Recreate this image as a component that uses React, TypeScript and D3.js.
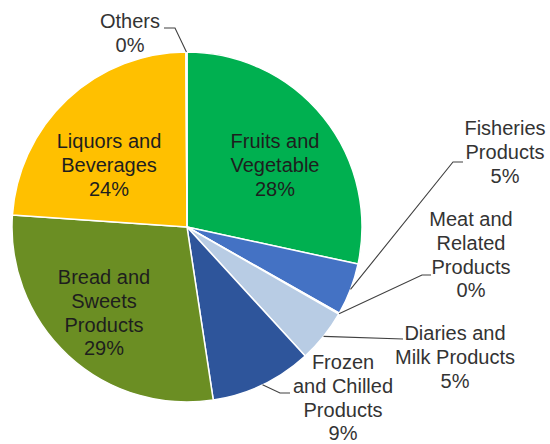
import React from "react";
import * as d3 from "d3";

const categories = [
  "Fruits and Vegetable",
  "Fisheries Products",
  "Meat and Related Products",
  "Diaries and Milk Products",
  "Frozen and Chilled Products",
  "Bread and Sweets Products",
  "Liquors and Beverages",
  "Others",
];
const values = [28.4, 4.8, 0.1, 4.9, 9.4, 28.5, 23.8, 0.1];
const colors = ["#00B050", "#4472C4", "#6E93D3", "#B8CCE4", "#2E559B", "#6B8E23", "#FFC000", "#A5A5A5"];
const labelLines = [
  ["Fruits and", "Vegetable"],
  ["Fisheries", "Products"],
  ["Meat and", "Related", "Products"],
  ["Diaries and", "Milk Products"],
  ["Frozen", "and Chilled", "Products"],
  ["Bread and", "Sweets", "Products"],
  ["Liquors and", "Beverages"],
  ["Others"],
];

// label layout: x center, first baseline, inside?, elbow path points (from label side)
const layout: { x: number; y: number; inside: boolean; elbow?: [number, number][] }[] = [
  { x: 275, y: 148, inside: true },
  { x: 505, y: 135, inside: false, elbow: [[463, 162], [453, 162]] },
  { x: 471, y: 226, inside: false, elbow: [[431, 275], [422, 275]] },
  { x: 455, y: 340, inside: false, elbow: [[403, 339]] },
  { x: 343, y: 369, inside: false, elbow: [[290, 393], [280, 393]] },
  { x: 104, y: 284, inside: true },
  { x: 109, y: 148, inside: true },
  { x: 130, y: 28, inside: false, elbow: [[164, 28], [175, 28]] },
];

const W = 550, H = 444;
const cx = 187, cy = 227, R = 175;
const LH = 23.8;

export default function App() {
  const pie = d3.pie<number>().sort(null).value((d) => d).startAngle(0).endAngle(2 * Math.PI);
  const arcs = pie(values);
  const arc = d3.arc<d3.PieArcDatum<number>>().innerRadius(0).outerRadius(R);
  const outerPt = (a: d3.PieArcDatum<number>) => {
    const m = (a.startAngle + a.endAngle) / 2;
    return [Math.sin(m) * R, -Math.cos(m) * R];
  };
  return (
    <svg width={W} height={H} style={{ position: "absolute", left: 0, top: 0, background: "#fff" }}
      fontFamily="'Liberation Sans', Arial, sans-serif">
      <rect width={W} height={H} fill="#fff" />
      <g transform={`translate(${cx},${cy})`}>
        {arcs.map((a, i) => (
          <path key={i} d={arc(a) || ""} fill={colors[i]} stroke="#fff" strokeWidth={1.5} strokeLinejoin="round" />
        ))}
      </g>
      {arcs.map((a, i) => {
        const L = layout[i];
        if (!L.elbow) return null;
        const [px, py] = outerPt(a);
        const pts: [number, number][] = [...L.elbow, [cx + px, cy + py]];
        const line = d3.line();
        return <path key={"l" + i} d={line(pts) || ""} fill="none" stroke="#404040" strokeWidth={1.1} />;
      })}
      {arcs.map((a, i) => {
        const L = layout[i];
        const lines = [...labelLines[i], `${Math.round(values[i])}%`];
        return (
          <text key={"t" + i} x={L.x} y={L.y} textAnchor="middle" fontSize={20}
            fill={L.inside ? "#1e1e1e" : "#333"}>
            {lines.map((s, j) => (
              <tspan key={j} x={L.x} y={L.y + j * LH}>{s}</tspan>
            ))}
          </text>
        );
      })}
    </svg>
  );
}
